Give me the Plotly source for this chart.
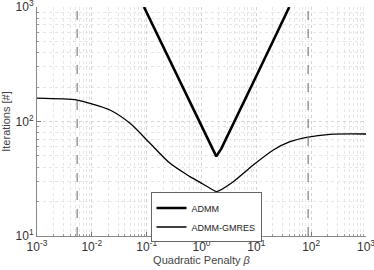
import plotly.graph_objects as go

# ADMM iterations vs quadratic penalty beta
admm_beta = [0.0893, 0.2, 0.5, 1.0, 1.5, 1.86, 2.3, 3.0, 10.0, 20.0, 39.9]
admm_iters = [1000, 450, 182, 92, 62, 49.6, 58, 76, 250, 500, 1000]

# ADMM-GMRES iterations vs beta
gmres_beta = [0.001, 0.0054, 0.00927, 0.0214, 0.0497, 0.115, 0.267, 0.617,
              1.08, 1.76, 1.89, 3.80, 8.81, 20.4, 41.1, 83.0, 220, 1000]
gmres_iters = [160, 154, 144, 126, 96.4, 64.5, 43.1, 33.0,
               28.3, 24.7, 24.4, 29.8, 41.7, 56.4, 66.6, 72.8, 77.3, 77.8]

# reference beta values (dashed vertical lines)
ref_beta = [0.0054, 88]

# tick labels
x_tickvals = [1e-3, 1e-2, 1e-1, 1e0, 1e1, 1e2, 1e3]
x_ticktext = ["10<sup>-3</sup>", "10<sup>-2</sup>", "10<sup>-1</sup>", "10<sup>0</sup>",
              "10<sup>1</sup>", "10<sup>2</sup>", "10<sup>3</sup>"]
y_tickvals = [1e1, 1e2, 1e3]
y_ticktext = ["10<sup>1</sup>", "10<sup>2</sup>", "10<sup>3</sup>"]

fig = go.Figure()
fig.add_trace(go.Scatter(x=admm_beta, y=admm_iters, mode="lines", name="ADMM",
                         line=dict(color="black", width=2.6)))
fig.add_trace(go.Scatter(x=gmres_beta, y=gmres_iters, mode="lines", name="ADMM-GMRES",
                         line=dict(color="black", width=1.3, shape="spline", smoothing=0.8)))
for b in ref_beta:
    fig.add_vline(x=b, line=dict(color="#808080", width=1.2, dash="dash"))

axis_common = dict(
    type="log",
    showgrid=True, gridcolor="#d4d4d4", griddash="dot", gridwidth=1,
    ticks="inside", ticklen=4, tickcolor="#777", showline=True, linecolor="#888", linewidth=1,
    tickfont=dict(family="Liberation Sans, Arial", size=12, color="#333"),
    ticklabeloverflow="allow",
    minor=dict(showgrid=True, gridcolor="#e6e6e6", griddash="dot", ticks="inside",
               ticklen=2, tickcolor="#999", dtick="D1"),
    zeroline=False, mirror=False, automargin=False,
)
fig.update_xaxes(range=[-3, 3], tickmode="array", tickvals=x_tickvals, ticktext=x_ticktext,
                 title=dict(text="Quadratic Penalty <i>β</i>", standoff=2,
                            font=dict(family="Liberation Sans, Arial", size=11, color="#444")),
                 **axis_common)
fig.update_yaxes(range=[1, 3], tickmode="array", tickvals=y_tickvals, ticktext=y_ticktext,
                 title=dict(text="Iterations [#]", standoff=3,
                            font=dict(family="Liberation Sans, Arial", size=11, color="#444")),
                 **axis_common)

fig.update_layout(
    width=374, height=270,
    margin=dict(l=37, r=8, t=7, b=34),
    plot_bgcolor="white", paper_bgcolor="white",
    font=dict(family="Liberation Sans, Arial", size=10, color="#333"),
    legend=dict(x=0.345, y=0.19, xanchor="left", yanchor="top",
                bgcolor="white", bordercolor="#666", borderwidth=1,
                font=dict(size=9, color="#222"), tracegroupgap=0,
                itemwidth=30),
    showlegend=True,
)
fig.write_html("out.html", config={"displayModeBar": False},
               post_script="document.body.style.margin='0';document.body.style.overflow='hidden';")
